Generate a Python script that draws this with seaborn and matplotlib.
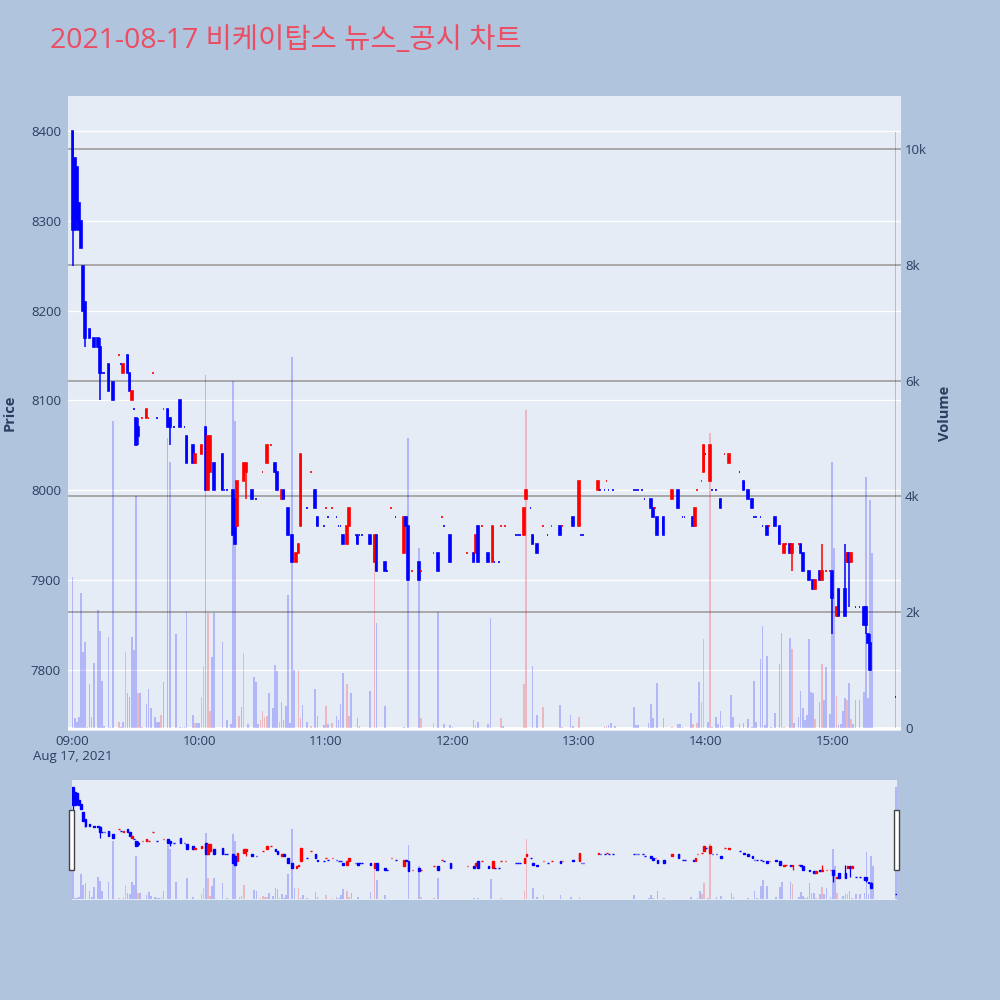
import numpy as np
import pandas as pd
import matplotlib
matplotlib.use("Agg")
import matplotlib.pyplot as plt
import seaborn as sns
from matplotlib.patches import Rectangle
from matplotlib.transforms import blended_transform_factory

sns.set_theme(style="white")
plt.rcParams["font.family"] = ["Open Sans", "Noto Sans CJK KR", "DejaVu Sans"]

TITLE = "2021-08-17 비케이탑스 뉴스_공시 차트"

# ---------------------------------------------------------------------------
# candles (minute offset from 09:00)
# ---------------------------------------------------------------------------
c_minute = [
    0, 1, 2, 3, 4, 5, 6, 8, 10, 12,
    13, 14, 15, 17, 19, 22, 23, 24, 26, 27,
    28, 29, 30, 31, 33, 35, 36, 38, 40, 43,
    45, 46, 48, 51, 53, 54, 57, 58, 61, 63,
    64, 65, 67, 71, 72, 73, 76, 77, 78, 81,
    82, 85, 87, 90, 92, 94, 96, 97, 99, 100,
    102, 104, 106, 107, 108, 111, 113, 115, 116, 119,
    120, 121, 123, 125, 126, 127, 128, 130, 131, 134,
    135, 136, 137, 141, 143, 144, 148, 149, 151, 153,
    157, 158, 159, 161, 164, 165, 171, 173, 175, 176,
    179, 187, 190, 191, 192, 194, 197, 199, 200, 202,
    203, 205, 210, 211, 212, 214, 215, 217, 218, 220,
    223, 225, 227, 231, 232, 237, 240, 241, 242, 249,
    250, 252, 253, 254, 256, 266, 267, 268, 270, 271,
    274, 275, 276, 277, 280, 284, 287, 289, 290, 294,
    295, 296, 298, 299, 300, 302, 303, 305, 307, 309,
    311, 316, 318, 320, 322, 323, 324, 326, 327, 329,
    330, 333, 335, 337, 338, 340, 341, 344, 345, 346,
    349, 351, 352, 354, 355, 357, 359, 360, 362, 363,
    366, 367, 368, 369, 371, 373, 375, 376, 377, 378,
    390,
]
c_open = [
    8400, 8370, 8360, 8320, 8300, 8250, 8210, 8180, 8170, 8170,
    8160, 8130, 8130, 8140, 8120, 8150, 8140, 8130, 8150, 8130,
    8100, 8090, 8080, 8070, 8080, 8080, 8080, 8130, 8080, 8090,
    8090, 8080, 8070, 8100, 8070, 8060, 8050, 8030, 8040, 8070,
    8000, 8020, 8030, 8040, 8000, 8000, 8000, 7990, 7960, 8010,
    8020, 8000, 7990, 8020, 8030, 8050, 8030, 8020, 7990, 8000,
    7980, 7950, 7920, 7930, 7960, 7980, 8020, 8000, 7970, 7960,
    7980, 7970, 7980, 7970, 7960, 7960, 7950, 7940, 7960, 7950,
    7950, 7950, 7950, 7950, 7920, 7950, 7920, 7910, 7980, 7970,
    7930, 7970, 7960, 7910, 7920, 7910, 7930, 7930, 7970, 7960,
    7950, 7930, 7930, 7930, 7960, 7960, 7930, 7920, 7920, 7920,
    7960, 7960, 7950, 7950, 7950, 7950, 7990, 7980, 7950, 7940,
    7960, 7950, 7960, 7960, 7960, 7970, 7960, 7950, 7950, 8000,
    8000, 8000, 8010, 8000, 8000, 8000, 8000, 8000, 8000, 7990,
    7990, 7980, 7980, 7970, 7970, 7990, 8000, 7970, 7970, 7970,
    7960, 8000, 8010, 8020, 8040, 8010, 8000, 8000, 7990, 8040,
    8030, 8020, 8010, 8000, 7990, 7970, 7970, 7970, 7960, 7960,
    7960, 7970, 7960, 7930, 7940, 7940, 7930, 7940, 7940, 7930,
    7910, 7900, 7890, 7910, 7900, 7910, 7910, 7910, 7860, 7890,
    7890, 7920, 7930, 7920, 7870, 7870, 7870, 7870, 7840, 7830,
    7770,
]
c_high = [
    8400, 8370, 8360, 8320, 8300, 8250, 8210, 8180, 8170, 8170,
    8170, 8130, 8130, 8140, 8120, 8150, 8140, 8140, 8150, 8130,
    8110, 8090, 8080, 8080, 8080, 8090, 8080, 8130, 8080, 8090,
    8090, 8080, 8070, 8100, 8070, 8060, 8050, 8040, 8050, 8070,
    8060, 8060, 8030, 8040, 8000, 8000, 8000, 7990, 8010, 8030,
    8030, 8000, 7990, 8020, 8050, 8050, 8030, 8020, 8000, 8000,
    7980, 7950, 7930, 7940, 8040, 7980, 8020, 8000, 7970, 7960,
    7980, 7970, 7980, 7970, 7960, 7960, 7950, 7960, 7980, 7950,
    7950, 7950, 7950, 7950, 7950, 7950, 7920, 7910, 7980, 7970,
    7970, 7970, 7960, 7910, 7920, 7910, 7930, 7930, 7970, 7960,
    7950, 7930, 7930, 7950, 7960, 7960, 7930, 7960, 7920, 7920,
    7960, 7960, 7950, 7950, 7950, 7980, 8000, 7980, 7950, 7940,
    7960, 7950, 7960, 7960, 7960, 7970, 8010, 7950, 7950, 8010,
    8000, 8000, 8010, 8000, 8000, 8000, 8000, 8000, 8000, 7990,
    7990, 7980, 7980, 7970, 7970, 8000, 8000, 7970, 7970, 7970,
    7980, 8000, 8010, 8050, 8040, 8050, 8000, 8000, 7990, 8040,
    8040, 8020, 8010, 8000, 7990, 7970, 7970, 7970, 7960, 7960,
    7960, 7970, 7960, 7940, 7940, 7940, 7940, 7940, 7940, 7930,
    7910, 7900, 7900, 7910, 7940, 7910, 7910, 7910, 7870, 7890,
    7940, 7930, 7930, 7930, 7870, 7870, 7870, 7870, 7840, 7840,
    7770,
]
c_low = [
    8250, 8290, 8290, 8290, 8270, 8200, 8160, 8170, 8160, 8160,
    8100, 8130, 8130, 8110, 8100, 8150, 8140, 8130, 8130, 8110,
    8100, 8090, 8050, 8050, 8080, 8080, 8080, 8130, 8080, 8090,
    8070, 8050, 8070, 8070, 8070, 8030, 8030, 8030, 8040, 8000,
    8000, 8020, 8000, 8000, 8000, 8000, 7950, 7940, 7960, 8010,
    7990, 7990, 7990, 8020, 8030, 8050, 8020, 8000, 7990, 7990,
    7950, 7920, 7920, 7930, 7960, 7980, 8020, 7980, 7960, 7960,
    7980, 7970, 7980, 7970, 7960, 7960, 7940, 7940, 7960, 7950,
    7940, 7950, 7950, 7940, 7920, 7910, 7910, 7910, 7980, 7970,
    7930, 7960, 7900, 7910, 7900, 7910, 7930, 7910, 7970, 7960,
    7920, 7930, 7920, 7930, 7920, 7960, 7920, 7920, 7920, 7920,
    7960, 7960, 7950, 7950, 7950, 7950, 7990, 7980, 7940, 7930,
    7960, 7950, 7960, 7950, 7960, 7960, 7960, 7950, 7950, 8000,
    8000, 8000, 8010, 8000, 8000, 8000, 8000, 8000, 8000, 7990,
    7980, 7970, 7980, 7950, 7950, 7990, 7980, 7970, 7970, 7960,
    7960, 8000, 8010, 8020, 8040, 8010, 8000, 8000, 7980, 8040,
    8030, 8020, 8000, 7990, 7980, 7970, 7970, 7970, 7960, 7950,
    7960, 7960, 7940, 7930, 7940, 7930, 7910, 7940, 7930, 7910,
    7900, 7890, 7890, 7900, 7900, 7910, 7910, 7840, 7860, 7860,
    7860, 7920, 7870, 7920, 7870, 7870, 7850, 7840, 7830, 7800,
    7770,
]
c_close = [
    8290, 8290, 8300, 8290, 8270, 8200, 8170, 8170, 8160, 8160,
    8130, 8130, 8130, 8110, 8100, 8150, 8140, 8140, 8130, 8110,
    8110, 8090, 8050, 8060, 8080, 8090, 8080, 8130, 8080, 8090,
    8070, 8070, 8070, 8070, 8070, 8030, 8030, 8040, 8050, 8000,
    8060, 8060, 8000, 8000, 8000, 8000, 7950, 7940, 8010, 8030,
    8030, 7990, 7990, 8020, 8050, 8050, 8020, 8000, 8000, 7990,
    7950, 7920, 7930, 7940, 8040, 7980, 8020, 7980, 7960, 7960,
    7980, 7970, 7980, 7970, 7960, 7960, 7940, 7960, 7980, 7950,
    7940, 7950, 7950, 7940, 7950, 7910, 7910, 7910, 7980, 7970,
    7970, 7960, 7900, 7910, 7900, 7910, 7930, 7910, 7970, 7960,
    7920, 7930, 7920, 7950, 7920, 7960, 7920, 7960, 7920, 7920,
    7960, 7960, 7950, 7950, 7950, 7980, 8000, 7980, 7940, 7930,
    7960, 7950, 7960, 7950, 7960, 7960, 8010, 7950, 7950, 8010,
    8000, 8000, 8010, 8000, 8000, 8000, 8000, 8000, 8000, 7990,
    7980, 7970, 7980, 7950, 7950, 8000, 7980, 7970, 7970, 7960,
    7980, 8000, 8010, 8050, 8040, 8050, 8000, 8000, 7980, 8040,
    8040, 8020, 8000, 7990, 7980, 7970, 7970, 7970, 7960, 7950,
    7960, 7960, 7940, 7940, 7940, 7930, 7940, 7940, 7930, 7910,
    7900, 7890, 7900, 7900, 7910, 7910, 7910, 7880, 7870, 7860,
    7860, 7930, 7920, 7930, 7870, 7870, 7850, 7850, 7830, 7800,
    7770,
]
# minutes where open == close but the candle is drawn as rising
flat_up = [22, 33, 36, 38, 43, 90, 94, 113, 120, 123, 151, 161, 165, 171,
           175, 187, 194, 203, 205, 223, 227, 232, 253, 276, 296, 298, 309,
           330, 338, 344, 357, 359]

# ---------------------------------------------------------------------------
# volume
# ---------------------------------------------------------------------------
vol_minute = [
    0, 1, 2, 3, 4, 5, 6, 7, 8, 9, 10, 12, 13, 14, 15, 17, 18, 19,
    22, 23, 24, 25, 26, 27, 28, 29, 30, 31, 32, 33, 35, 36, 37, 39, 40, 41,
    42, 43, 45, 46, 49, 51, 52, 53, 54, 57, 58, 59, 60, 61, 62, 63, 64, 65,
    66, 67, 71, 73, 75, 76, 77, 79, 80, 81, 83, 86, 87, 88, 89, 90, 91, 92,
    93, 95, 96, 97, 98, 99, 100, 101, 102, 103, 104, 105, 107, 108, 109, 111,
    113, 115, 116, 119, 120, 121, 123, 125, 126, 127, 128, 130, 131, 132,
    135, 136, 141, 143, 144, 148, 157, 159, 164, 165, 171, 173, 176, 179,
    180, 190, 191, 192, 197, 198, 203, 204, 214, 215, 218, 220, 223, 231,
    232, 236, 237, 240, 252, 253, 254, 255, 257, 266, 267, 268, 273, 274,
    275, 277, 280, 284, 287, 288, 289, 293, 294, 296, 297, 298, 299, 301,
    302, 303, 305, 306, 307, 308, 312, 313, 316, 318, 320, 322, 323, 324,
    326, 327, 328, 329, 331, 333, 335, 336, 337, 340, 341, 342, 344, 345,
    346, 347, 348, 349, 350, 351, 352, 354, 355, 356, 357, 359, 360, 361,
    362, 363, 364, 365, 366, 367, 368, 369, 370, 371, 373, 375, 376, 377,
    378, 379, 390,
]
vol_value = [
    2600, 170, 110, 195, 2325, 1320, 1490, 20, 760, 195, 1130, 2036, 1680, 813, 40, 1580, 20, 5300,
    110, 20, 110, 1320, 610, 540, 1580, 1350, 4000, 600, 610, 20, 410, 680, 340, 185, 100, 100,
    225, 790, 5000, 4600, 1625, 20, 20, 10, 2000, 225, 80, 80, 80, 540, 1070, 6100, 1980, 300,
    1230, 1980, 1490, 140, 70, 6000, 5300, 210, 355, 1300, 65, 875, 790, 65, 140, 285, 195, 210,
    600, 340, 1090, 985, 110, 455, 140, 380, 2300, 80, 6400, 1000, 1010, 170, 400, 110,
    35, 680, 210, 50, 380, 70, 90, 210, 140, 410, 955, 760, 210, 610,
    180, 40, 640, 2870, 1820, 380, 20, 5000, 3100, 180, 90, 2000, 70, 50,
    20, 130, 50, 110, 65, 1900, 170, 40, 760, 5500, 1070, 225, 370, 400,
    20, 225, 40, 185, 20, 40, 50, 80, 40, 360, 50, 50, 90, 410,
    170, 780, 170, 10, 70, 70, 10, 265, 70, 90, 800, 455, 1530, 100,
    5100, 20, 185, 70, 295, 35, 570, 195, 70, 80, 150, 20, 813, 110,
    1185, 1760, 50, 1245, 20, 265, 1105, 1635, 20, 1550, 1365, 80, 195, 640,
    340, 140, 225, 1530, 630, 600, 150, 455, 1105, 485, 1050, 240, 4600, 3100,
    555, 50, 65, 285, 510, 490, 770, 150, 70, 485, 485, 630, 4330, 520,
    3940, 3020, 10300,
]
vol_dir = [
    "d", "d", "d", "d", "d", "d", "d", "d", "d", "d", "d", "d", "d", "d", "d", "d", "d", "d",
    "u", "d", "d", "u", "d", "d", "d", "d", "d", "u", "d", "u", "d", "d", "d", "d", "d", "d",
    "u", "d", "d", "d", "d", "d", "d", "d", "d", "d", "u", "d", "d", "u", "u", "d", "u", "u",
    "d", "d", "d", "d", "d", "d", "d", "u", "d", "u", "d", "d", "d", "d", "u", "u", "u", "u",
    "d", "d", "d", "d", "u", "d", "d", "d", "d", "d", "d", "d", "u", "u", "d", "d",
    "u", "d", "d", "d", "u", "d", "u", "d", "d", "d", "d", "u", "u", "d",
    "d", "d", "d", "u", "d", "d", "d", "d", "d", "u", "u", "d", "d", "d",
    "d", "d", "u", "d", "d", "d", "u", "d", "u", "u", "d", "d", "u", "d",
    "u", "d", "d", "u", "d", "u", "d", "d", "d", "d", "d", "d", "d", "d",
    "d", "d", "d", "u", "d", "d", "d", "d", "u", "u", "d", "u", "u", "d",
    "u", "d", "d", "d", "d", "d", "d", "d", "d", "d", "d", "d", "d", "d",
    "d", "d", "d", "d", "d", "d", "d", "d", "u", "d", "u", "d", "d", "d",
    "d", "d", "d", "d", "d", "d", "u", "d", "u", "d", "d", "d", "d", "d",
    "u", "d", "d", "d", "d", "u", "d", "u", "d", "d", "d", "d", "d", "d",
    "d", "d", "d",
]

hour_ticks = [0, 60, 120, 180, 240, 300, 360]
hour_labels = ["09:00\nAug 17, 2021", "10:00", "11:00", "12:00", "13:00", "14:00", "15:00"]
price_ticks = [7800, 7900, 8000, 8100, 8200, 8300, 8400]
vol_ticks = [0, 2000, 4000, 6000, 8000, 10000]
vol_labels = ["0", "2k", "4k", "6k", "8k", "10k"]

# ---------------------------------------------------------------------------
cdf = pd.DataFrame({"minute": c_minute, "open": c_open, "high": c_high,
                    "low": c_low, "close": c_close})
cdf["up"] = (cdf["close"] > cdf["open"]) | (
    (cdf["close"] == cdf["open"]) & cdf["minute"].isin(flat_up))
cdf["color"] = np.where(cdf["up"], "#FF0000", "#0000FF")

vdf = pd.DataFrame({"minute": vol_minute, "volume": vol_value, "dir": vol_dir})

BG = "#B0C4DE"
PLOT_BG = "#E5ECF6"
TXT = "#2a3f5f"
XLIM = (-2.2, 392.6)
PLIM = (7731.8, 8439.0)
VLIM = (-52, 10915)


def draw_candles(a, wick_lw, body_lw, body_w):
    a.vlines(cdf["minute"], cdf["low"], cdf["high"], colors=cdf["color"],
             lw=wick_lw, zorder=2)
    bottom = np.minimum(cdf["open"], cdf["close"])
    height = np.abs(cdf["close"] - cdf["open"])
    a.bar(cdf["minute"], height, bottom=bottom, width=body_w,
          color=cdf["color"], edgecolor=cdf["color"], lw=body_lw, zorder=3)


def draw_volume(a):
    sns.histplot(data=vdf, x="minute", weights="volume", hue="dir",
                 hue_order=["d", "u"], palette={"d": "#0000FF", "u": "#FF0000"},
                 discrete=True, shrink=0.8, alpha=0.22, linewidth=0,
                 legend=False, ax=a)


fig = plt.figure(figsize=(10, 10), dpi=100, facecolor=BG)

# main panel
ax = fig.add_axes([0.068, 0.269, 0.833, 0.635])
ax.set_facecolor(PLOT_BG)
ax2 = ax.twinx()

draw_candles(ax, 1.1, 1.2, 0.8)
draw_volume(ax2)

ax.set_xlim(*XLIM)
ax.set_ylim(*PLIM)
ax2.set_ylim(*VLIM)

ax.set_yticks(price_ticks)
ax.set_yticklabels([str(p) for p in price_ticks])
ax.set_xticks(hour_ticks)
ax.set_xticklabels(hour_labels)
ax2.set_yticks(vol_ticks)
ax2.set_yticklabels(vol_labels)
ax.tick_params(axis="both", length=0, labelsize=9.5, labelcolor=TXT)
ax.tick_params(axis="y", pad=5)
ax.tick_params(axis="x", pad=3)
ax2.tick_params(axis="y", length=0, labelsize=9.5, labelcolor=TXT, pad=3)
ax2.set_ylabel("")
ax2.set_xlabel("")

# price grid (white) and volume grid (grey), both under the traces
for p in price_ticks:
    ax.axhline(p, color="white", lw=1.0, zorder=0.5)
vtrans = blended_transform_factory(ax.transAxes, ax2.transData)
for v in vol_ticks:
    if v == 0:
        ax.plot([0, 1], [v, v], transform=vtrans, color="white", lw=2, zorder=0.6)
    else:
        ax.plot([0, 1], [v, v], transform=vtrans, color="#A9A9A9", lw=1.4, zorder=0.6)

for a in (ax, ax2):
    for s in a.spines.values():
        s.set_visible(False)

fig.text(0.010, 0.587, "Price", rotation=90, ha="center", va="center",
         fontsize=10.5, fontweight="bold", color=TXT)
fig.text(0.945, 0.587, "Volume", rotation=90, ha="center", va="center",
         fontsize=10.5, fontweight="bold", color=TXT)
fig.text(0.05, 0.959, TITLE, ha="left", va="center", fontsize=20.5, color="#EB4D62")

# range slider
axs = fig.add_axes([0.072, 0.100, 0.825, 0.120])
axs.set_facecolor(PLOT_BG)
axs2 = axs.twinx()
draw_candles(axs, 0.9, 1.0, 0.8)
draw_volume(axs2)
axs.set_xlim(-0.35, 390.45)
axs.set_ylim(*PLIM)
axs2.set_ylim(*VLIM)
for a in (axs, axs2):
    a.set_xticks([])
    a.set_yticks([])
    a.set_xlabel("")
    a.set_ylabel("")
    for s in a.spines.values():
        s.set_visible(False)

for x0 in (0.069, 0.894):
    fig.add_artist(Rectangle((x0, 0.130), 0.0045, 0.060, transform=fig.transFigure,
                             facecolor="white", edgecolor="#444444", lw=1, zorder=10))

fig.savefig("out.png", dpi=100, facecolor=BG)
